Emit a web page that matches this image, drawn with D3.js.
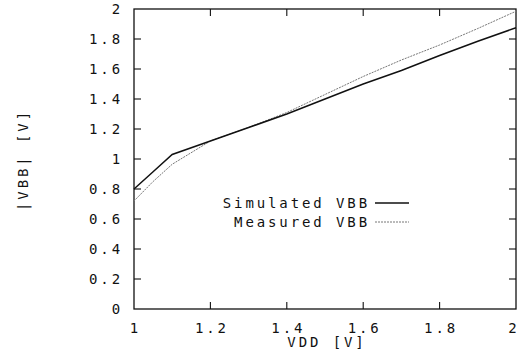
<!DOCTYPE html>
<html>
<head>
<meta charset="utf-8">
<script src="https://cdn.jsdelivr.net/npm/d3@7"></script>
<style>
  body { margin: 0; background: #fff; }
  text { font-family: "DejaVu Sans Mono", monospace; font-size: 14px; fill: #111; letter-spacing: 2.9px; }
</style>
</head>
<body>
<div id="chart"></div>
<script>
// values
const vdd = [1.0, 1.05, 1.1, 1.2, 1.3, 1.4, 1.5, 1.6, 1.7, 1.8, 1.9, 2.0];
const simulated = [0.80, 0.915, 1.03, 1.12, 1.21, 1.30, 1.40, 1.50, 1.59, 1.69, 1.785, 1.875];
const measured = [0.72, 0.85, 0.965, 1.12, 1.21, 1.31, 1.43, 1.55, 1.66, 1.76, 1.87, 1.985];
const xTicks = [1, 1.2, 1.4, 1.6, 1.8, 2];
const yTicks = [0, 0.2, 0.4, 0.6, 0.8, 1, 1.2, 1.4, 1.6, 1.8, 2];
const seriesNames = ["Simulated VBB", "Measured VBB"];

const W = 520, H = 356;
const m = { left: 134, right: 4, top: 9, bottom: 47 };

const svg = d3.select("#chart").append("svg").attr("width", W).attr("height", H);

const x = d3.scaleLinear().domain([1, 2]).range([m.left, W - m.right]);
const y = d3.scaleLinear().domain([0, 2]).range([H - m.bottom, m.top]);

const fmt = d => d3.format("")(d);
const tl = 7;

// frame
svg.append("rect")
  .attr("x", x(1)).attr("y", y(2))
  .attr("width", x(2) - x(1)).attr("height", y(0) - y(2))
  .attr("fill", "none").attr("stroke", "#111").attr("stroke-width", 1.3);

// inward ticks on all four sides
const g = svg.append("g").attr("stroke", "#111").attr("stroke-width", 1.1);
xTicks.slice(1, -1).forEach(t => {
  g.append("line").attr("x1", x(t)).attr("x2", x(t)).attr("y1", y(0)).attr("y2", y(0) - tl);
  g.append("line").attr("x1", x(t)).attr("x2", x(t)).attr("y1", y(2)).attr("y2", y(2) + tl);
});
yTicks.slice(1, -1).forEach(t => {
  g.append("line").attr("x1", x(1)).attr("x2", x(1) + tl).attr("y1", y(t)).attr("y2", y(t));
  g.append("line").attr("x1", x(2)).attr("x2", x(2) - tl).attr("y1", y(t)).attr("y2", y(t));
});

// tick labels (monospaced, trailing letter-spacing compensated)
svg.append("g").selectAll("text").data(yTicks).join("text")
  .attr("x", 123).attr("y", d => y(d)).attr("dy", "0.36em")
  .attr("text-anchor", "end")
  .text(d => fmt(d));

svg.append("g").selectAll("text").data(xTicks).join("text")
  .attr("x", d => Math.min(x(d) + 1.5, 514)).attr("y", 333)
  .attr("text-anchor", "middle")
  .text(d => fmt(d));

// axis titles
svg.append("text").attr("x", 327).attr("y", 347).attr("text-anchor", "middle").text("VDD [V]");
svg.append("text")
  .attr("transform", "translate(28,160) rotate(-90)")
  .attr("text-anchor", "middle").text("|VBB| [V]");

// curves
const line = d3.line().x((d, i) => x(vdd[i])).y(d => y(d));
svg.append("path").datum(measured)
  .attr("d", line).attr("fill", "none")
  .attr("stroke", "#777").attr("stroke-width", 1).attr("stroke-dasharray", "2,1");
svg.append("path").datum(simulated)
  .attr("d", line).attr("fill", "none")
  .attr("stroke", "#111").attr("stroke-width", 1.5);

// legend
const leg = svg.append("g");
seriesNames.forEach((name, i) => {
  const ly = 203 + i * 19;
  leg.append("text").attr("x", 370).attr("y", ly).attr("dy", "0.36em")
    .attr("text-anchor", "end").text(name);
  leg.append("line").attr("x1", 375).attr("x2", 409).attr("y1", ly).attr("y2", ly)
    .attr("stroke", i === 0 ? "#111" : "#777")
    .attr("stroke-width", i === 0 ? 1.5 : 1)
    .attr("stroke-dasharray", i === 0 ? null : "2,1");
});
</script>
</body>
</html>
